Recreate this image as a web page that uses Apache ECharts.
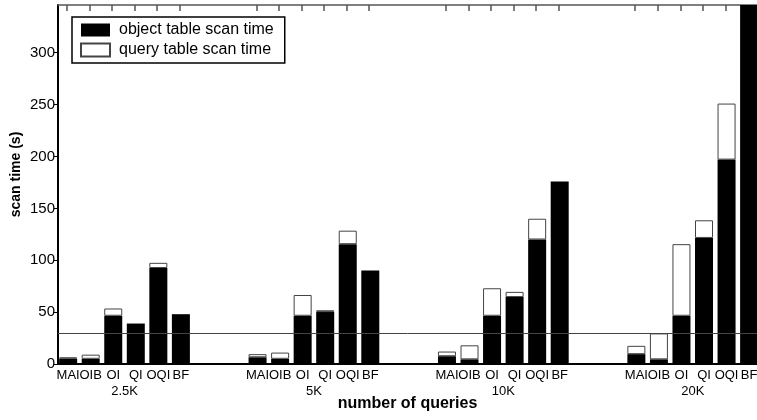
<!DOCTYPE html>
<html>
<head>
<meta charset="utf-8">
<title>scan time</title>
<script src="https://cdn.jsdelivr.net/npm/echarts@6/dist/echarts.min.js"></script>
</head>
<body style="margin:0">
<div id="chart" style="width:757px;height:420px;"></div>
<script>
// data (seconds)
var groups = ['2.5K', '5K', '10K', '20K'];
var methods = ['MAI', 'OIB', 'OI', 'QI', 'OQI', 'BF'];
// one row per group, one column per method
var objectScan = [
    [5, 5, 46.5, 39, 92.5, 48],
    [6.5, 5, 46.5, 50, 115.5, 90],
    [7.5, 4.5, 46.5, 64.5, 120, 176],
    [9.5, 4.5, 46.5, 121.5, 197, 370]
];
var queryScan = [
    [1.5, 4, 7, 0, 5, 0],
    [3, 6, 20, 1.8, 13, 0],
    [4.5, 13.5, 26.5, 5, 20, 0],
    [8, 25, 69, 17, 54, 0]
];
var yMax = 346;
var yStep = 50;
var refLine = 30;

// fine slots on the category axis so groups can sit apart
var SLOT_BAR = 10, SLOT_GROUP = 84, SLOT_FIRST = 4, SLOT_TOTAL = 310;
var slots = [], barLabel = {}, groupLabel = {};
var objData = [], qData = [];
for (var s = 0; s < SLOT_TOTAL; s++) {
    slots.push('s' + s);
    objData.push('-');
    qData.push('-');
}
groups.forEach(function (g, gi) {
    groupLabel[SLOT_FIRST + gi * SLOT_GROUP + 2.5 * SLOT_BAR] = g;
    methods.forEach(function (m, mi) {
        var k = SLOT_FIRST + gi * SLOT_GROUP + mi * SLOT_BAR;
        barLabel[k] = m;
        objData[k] = objectScan[gi][mi];
        qData[k] = queryScan[gi][mi] ? queryScan[gi][mi] : '-';
    });
});
function isBar(idx) { return barLabel[idx] !== undefined; }

var font = "'Liberation Sans', Arial, Helvetica, sans-serif";
var chart = echarts.init(document.getElementById('chart'));
var option = {
    animation: false,
    textStyle: {fontFamily: font, color: '#000'},
    grid: {left: 58, right: 0, top: 5, bottom: 56, containLabel: false, outerBoundsMode: 'none'},
    legend: {
        data: ['object table scan time', 'query table scan time'],
        orient: 'vertical',
        left: 72, top: 17,
        icon: 'rect',
        itemWidth: 29, itemHeight: 13, itemGap: 4,
        padding: [5, 11, 5, 8],
        borderColor: '#000', borderWidth: 1.5,
        textStyle: {fontSize: 16, lineHeight: 15, color: '#000', padding: [0, 0, 0, 4]}
    },
    xAxis: [
        {
            // method names under each bar
            type: 'category', data: slots, position: 'bottom',
            axisLine: {lineStyle: {color: '#000', width: 2}},
            axisTick: {show: false},
            axisLabel: {
                interval: 0,
                formatter: function (v, idx) { return barLabel[idx] || ''; },
                fontSize: 13, margin: 5, color: '#000'
            }
        },
        {
            // group names + axis title
            type: 'category', data: slots, position: 'bottom',
            axisLine: {show: false}, axisTick: {show: false},
            axisLabel: {
                interval: 0,
                formatter: function (v, idx) { return groupLabel[idx] || ''; },
                fontSize: 13, margin: 21, color: '#000'
            },
            name: 'number of queries', nameLocation: 'middle', nameGap: 32, nameMoveOverlap: false,
            nameTextStyle: {fontSize: 16, fontWeight: 'bold', color: '#000'}
        },
        {
            // top border with inward ticks
            type: 'category', data: slots, position: 'top',
            axisLine: {show: true, lineStyle: {color: '#555', width: 1.5}},
            axisTick: {
                show: true, inside: true, length: 6,
                interval: function (idx) { return isBar(idx); },
                lineStyle: {color: '#555', width: 1.5}
            },
            axisLabel: {
                show: false,
                interval: function (idx) { return isBar(idx); }
            }
        }
    ],
    yAxis: {
        type: 'value', min: 0, max: yMax, interval: yStep,
        splitLine: {show: false},
        axisLine: {show: true, lineStyle: {color: '#000', width: 2}},
        axisTick: {show: true, length: 4, lineStyle: {color: '#000'}},
        axisLabel: {fontSize: 15, margin: 3, color: '#000', showMaxLabel: false, showMinLabel: true},
        name: 'scan time (s)', nameLocation: 'middle', nameGap: 35, nameMoveOverlap: false,
        nameTextStyle: {fontSize: 14, fontWeight: 'bold', color: '#000', padding: [0, 0, 0, 20]}
    },
    series: [
        {
            name: 'object table scan time', type: 'bar', stack: 'scan',
            data: objData, barWidth: 18,
            itemStyle: {color: '#000'},
            markLine: {
                silent: true, symbol: ['none', 'none'],
                label: {show: false},
                lineStyle: {color: '#444', width: 1, type: 'solid'},
                data: [{yAxis: refLine}]
            }
        },
        {
            name: 'query table scan time', type: 'bar', stack: 'scan',
            data: qData, barWidth: 18,
            itemStyle: {color: '#fff', borderColor: '#444', borderWidth: 1}
        }
    ]
};
chart.setOption(option);
</script>
</body>
</html>
